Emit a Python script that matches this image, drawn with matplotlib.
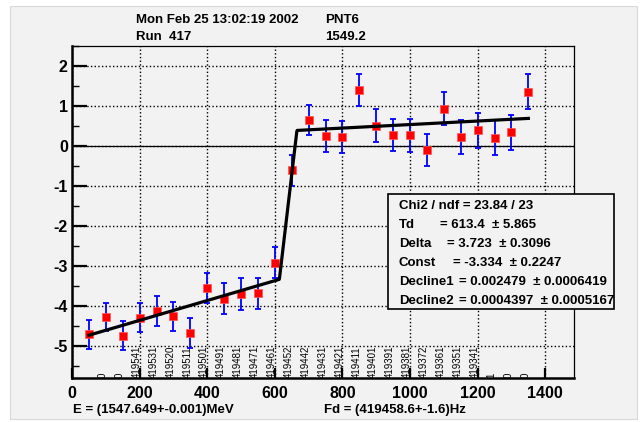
import numpy as np
import matplotlib
matplotlib.use('Agg')
import matplotlib.pyplot as plt
from matplotlib.patches import Rectangle

plt.rcParams['font.family'] = ['Liberation Sans', 'DejaVu Sans']
plt.rcParams['axes.unicode_minus'] = False

# data points (x, asymmetry, error)
x_pts = [50, 100, 150, 200, 250, 300, 350, 400, 450, 500, 550, 600, 650, 700,
         750, 800, 850, 900, 950, 1000, 1050, 1100, 1150, 1200, 1250, 1300, 1350]
y_pts = [-4.71, -4.27, -4.74, -4.29, -4.13, -4.26, -4.68, -3.55, -3.82, -3.70,
         -3.68, -2.92, -0.61, 0.65, 0.25, 0.23, 1.40, 0.51, 0.27, 0.27, -0.10,
         0.93, 0.23, 0.39, 0.21, 0.34, 1.36]
y_err = [0.37, 0.35, 0.37, 0.36, 0.38, 0.37, 0.37, 0.38, 0.39, 0.39, 0.39, 0.39,
         0.39, 0.38, 0.40, 0.40, 0.39, 0.41, 0.40, 0.41, 0.41, 0.41, 0.42, 0.43,
         0.43, 0.43, 0.44]

# frequency label under each point
freq_labels = ['', '0', '0', '419541', '419531', '419520', '419511', '419501',
               '419491', '419481', '419471', '419461', '419452', '419442',
               '419431', '419421', '419411', '419401', '419391', '419381',
               '419372', '419361', '419351', '419341', '1', '0', '0']

# fit parameters
Td, Delta, Const = 613.4, 3.723, -3.334
Decline1, Decline2 = 0.002479, 0.0004397
width = 52.0

stat_names = ['Td', 'Delta', 'Const', 'Decline1', 'Decline2']
stat_vals = ['= 613.4  \u00b1 5.865', '= 3.723  \u00b1 0.3096', '= -3.334  \u00b1 0.2247',
             '= 0.002479  \u00b1 0.0006419', '= 0.0004397  \u00b1 0.0005167']

def fitfunc(x):
    y = np.where(x < Td, Const + Decline1 * (x - Td),
                 Const + Delta + Decline2 * (x - Td - width))
    mid = (x >= Td) & (x < Td + width)
    y = np.where(mid, Const + Delta * (x - Td) / width, y)
    return y

W, H = 641, 422
bg = '#f2f2f2'
fig = plt.figure(figsize=(W / 100, H / 100), dpi=100, facecolor='white')
fig.patches.append(Rectangle((10 / W, 3 / H), 627 / W, 413 / H, transform=fig.transFigure,
                             facecolor=bg, edgecolor='#d8d8d8', lw=0.8, zorder=-10))

ax = fig.add_axes([72 / W, (H - 378) / H, (574 - 72) / W, (378 - 46) / H])
ax.set_facecolor(bg)
ax.set_xlim(0, 1485)
ax.set_ylim(-5.8, 2.5)

ax.set_xticks(np.arange(0, 1401, 200))
ax.set_yticks(np.arange(-5, 3, 1))
ax.set_yticks(np.arange(-5.5, 2.6, 1.0), minor=True)
ax.grid(True, which='major', linestyle=':', color='black', lw=1.0)
ax.axhline(0, color='black', lw=0.9, zorder=2)

ax.tick_params(axis='both', which='major', direction='in', labelsize=11.5, color='black')
ax.tick_params(axis='y', which='major', length=11, width=1.6, pad=3)
ax.tick_params(axis='y', which='minor', length=5, width=1.0, direction='in')
ax.tick_params(axis='x', which='major', length=7, width=1.6, pad=6)
for lab in ax.get_xticklabels() + ax.get_yticklabels():
    lab.set_fontweight('bold')

ax.spines['left'].set_linewidth(1.8)
ax.spines['bottom'].set_linewidth(1.8)
ax.spines['top'].set_linewidth(0.9)
ax.spines['right'].set_linewidth(0.9)

# frequency labels at the bottom
for xv, lab in zip(x_pts, freq_labels):
    if lab:
        ax.text(xv, -5.8, lab, rotation=90, rotation_mode='anchor', ha='left',
                va='baseline', fontsize=7, color='black', zorder=3)

ax.errorbar(x_pts, y_pts, yerr=y_err, fmt='none', ecolor='#0000ff', elinewidth=1.3,
            capsize=2.2, capthick=1.3, zorder=4)
ax.plot(x_pts, y_pts, 's', color='#ff0000', markersize=6, markeredgecolor='#ff5555',
        markeredgewidth=0.5, zorder=5)

xf = np.linspace(50, 1350, 1301)
ax.plot(xf, fitfunc(xf), color='black', lw=2.3, zorder=6)

# stats box
bx0, by0, bx1, by1 = 388, 194, 614, 309
fig.patches.append(Rectangle((bx0 / W, 1 - by1 / H), (bx1 - bx0) / W, (by1 - by0) / H,
                             transform=fig.transFigure, facecolor=bg, edgecolor='black',
                             lw=1.2, zorder=10))
fs = 9.5
fig.text(399 / W, 1 - 206 / H, 'Chi2 / ndf = 23.84 / 23', fontsize=fs, fontweight='bold',
         va='center', zorder=11)
eq_x = [440, 447, 453, 459, 459]
line_y = [224.5, 244, 263, 282, 301]
for name, val, ex, ly in zip(stat_names, stat_vals, eq_x, line_y):
    fig.text(399 / W, 1 - ly / H, name, fontsize=fs, fontweight='bold', va='center', zorder=11)
    fig.text(ex / W, 1 - ly / H, val, fontsize=fs, fontweight='bold', va='center', zorder=11)

# header and footer text
fig.text(136 / W, 1 - 20 / H, 'Mon Feb 25 13:02:19 2002', fontsize=fs, fontweight='bold', va='center')
fig.text(325 / W, 1 - 20 / H, 'PNT6', fontsize=fs, fontweight='bold', va='center')
fig.text(136 / W, 1 - 37 / H, 'Run  417', fontsize=fs, fontweight='bold', va='center')
fig.text(325 / W, 1 - 37 / H, '1549.2', fontsize=fs, fontweight='bold', va='center')
fig.text(73 / W, 1 - 410 / H, 'E = (1547.649+-0.001)MeV', fontsize=fs, fontweight='bold', va='center')
fig.text(324 / W, 1 - 410 / H, 'Fd = (419458.6+-1.6)Hz', fontsize=fs, fontweight='bold', va='center')

fig.savefig('out.png', dpi=100, facecolor='white')
